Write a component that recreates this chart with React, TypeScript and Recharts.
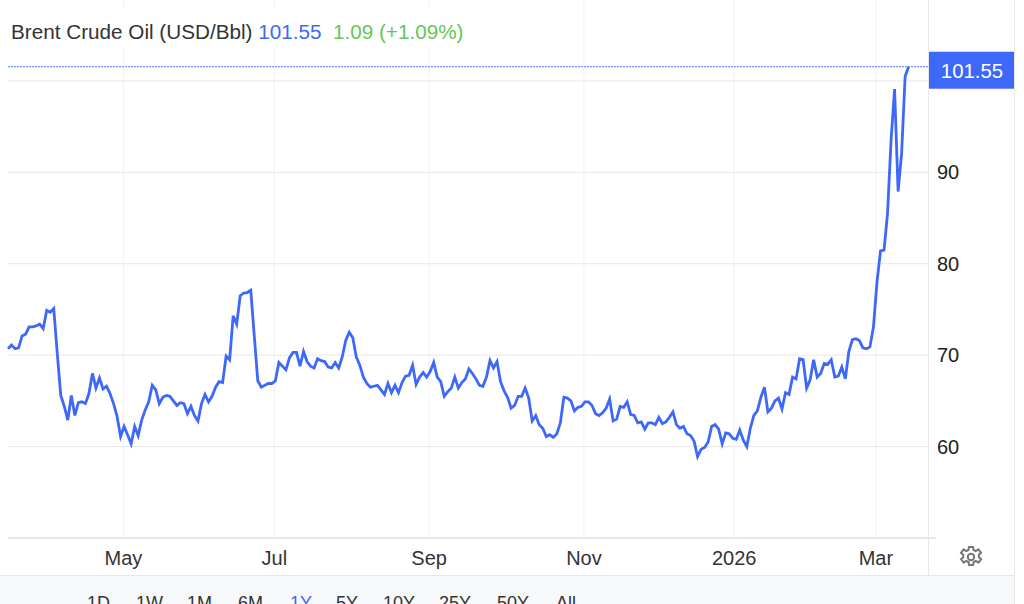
import { LineChart, Line, CartesianGrid, XAxis, YAxis, ReferenceLine } from "recharts";

// Daily closes, oldest first
const spring = [
  70.7, 71.1, 70.7, 70.8, 72.1, 72.3, 73.1, 73.1, 73.2, 73.4, 72.9, 74.9, 74.7, 75.1, 70.2, 65.6,
  64.4, 62.9, 65.6, 63.4, 64.8, 64.9, 64.7, 65.8, 68.0, 66.4, 67.5, 66.3, 66.6, 65.8, 64.7, 63.3,
  61.1, 62.2, 61.3, 60.3, 62.2, 61.2, 62.9, 64.0, 64.9, 66.7, 66.2, 64.7, 65.4, 65.6, 65.5, 65.0,
  64.5, 64.8, 64.7, 63.6, 64.4, 63.4, 62.8, 64.7, 65.7, 64.9, 65.5, 66.5, 67.1, 67.0, 69.9, 69.5,
  74.3, 73.4, 76.5, 76.8, 76.85, 77.1, 72.1, 67.2, 66.5, 66.7, 66.9, 66.9, 67.2, 69.2, 68.8, 68.4,
  69.7, 70.3, 70.3, 68.8, 70.4, 69.3, 68.8, 68.6, 69.6, 69.4, 69.3, 68.7, 68.6, 69.2, 68.6,
];
const summer = [
  69.8, 71.6, 72.5, 71.9, 69.8, 68.9, 67.6, 66.9, 66.5, 66.6, 66.7, 66.2, 65.7, 66.9, 65.9, 66.7,
  65.9, 67.0, 67.7, 67.8, 68.9, 66.8, 67.6, 68.1, 67.6, 68.2, 69.2, 67.6, 67.1, 65.5, 66.0, 66.4,
  67.6, 66.4, 67.0, 67.4, 68.5, 68.0, 67.4, 66.7, 66.6, 67.6, 69.4, 68.6, 69.3, 67.1, 66.1, 65.4,
  64.2, 64.5, 65.5, 65.5, 66.4, 65.3, 62.8, 63.4, 62.4, 62.0, 61.1, 61.3, 61.0, 61.4, 62.6, 65.4,
  65.3, 65.0, 63.9, 64.3, 64.4, 64.9, 64.9, 64.5, 63.6, 63.4, 63.7, 64.2, 65.2, 62.8, 63.0, 64.4,
  64.3, 64.9, 63.5, 63.4, 62.6, 62.7, 61.9, 62.6, 62.6, 62.4, 63.2, 62.5, 62.7, 63.2, 63.8, 62.4,
  62.0,
];
const winter = [
  62.2, 61.4, 61.2, 60.6, 58.9, 59.7, 59.9, 60.5, 62.2, 62.4, 61.9, 60.3, 61.5, 61.4, 60.9, 60.8,
  61.8, 60.7, 60.0, 62.0, 63.4, 63.9, 65.4, 66.5, 63.8, 64.2, 65.0, 65.3, 64.1, 65.9, 65.7, 67.6,
  67.4, 69.6, 69.5, 66.4, 67.3, 69.5, 67.6, 68.0, 69.1, 69.0, 69.5, 67.6, 67.7, 68.7, 67.4, 70.4,
  71.7, 71.8, 71.6, 70.8, 70.7, 70.9, 73.1, 78.0, 81.4, 81.5, 85.5, 93.5, 99.1, 87.9, 92.1, 100.5,
  101.55,
];
const closes = [...spring, ...summer, ...winter];

const monthLabels = ["May", "Jul", "Sep", "Nov", "2026", "Mar"];
const monthStarts = [32.8, 75.7, 119.7, 163.7, 206.4, 246.7];
const priceTicks = [60, 70, 80, 90];
const gridLevels = [60, 70, 80, 90, 100];
const rangeLabels = ["1D", "1W", "1M", "6M", "1Y", "5Y", "10Y", "25Y", "50Y", "All"];
const rangeLefts = [87, 136, 187, 238, 290, 336, 383, 439, 497, 556];

const last = closes[closes.length - 1];
const data = closes.map((close, i) => ({ i, close }));

const FONT = "'Liberation Sans', Arial, sans-serif";
const BLUE = "#3d68f8";

function PriceBadge({ viewBox }: any) {
  const y = viewBox.y;
  return (
    <g>
      <rect x={929} y={y - 15} width={85} height={37} fill={BLUE} />
      <text x={972} y={y + 11} fill="#fff" fontSize={20.4} textAnchor="middle" fontFamily={FONT}>
        {last.toFixed(2)}
      </text>
    </g>
  );
}

export default function App() {
  return (
    <div style={{ position: "absolute", left: 0, top: 0, width: 1024, height: 604, overflow: "hidden", background: "#fff", fontFamily: FONT }}>
      <LineChart
        width={1024}
        height={575}
        data={data}
        margin={{ top: 0, right: 0, left: 8, bottom: 0 }}
      >
        <CartesianGrid stroke="#eef3f6" horizontal={false} verticalValues={monthStarts} />
        <CartesianGrid stroke="#e8e8e8" vertical={false} horizontalValues={gridLevels} />
        <XAxis
          dataKey="i"
          type="number"
          domain={[0, 261.5]}
          ticks={monthStarts}
          tickFormatter={(v: number) => monthLabels[monthStarts.indexOf(v)]}
          axisLine={{ stroke: "#e8e8e8", strokeWidth: 2 }}
          tickLine={false}
          interval={0}
          height={37}
          tick={{ fill: "#333", fontSize: 20, fontFamily: FONT, dy: 5 }}
        />
        <YAxis
          orientation="right"
          type="number"
          domain={[50, 108.85]}
          ticks={priceTicks}
          axisLine={false}
          tickLine={false}
          interval={0}
          width={96}
          tick={{ fill: "#222", fontSize: 20, fontFamily: FONT, textAnchor: "start", dx: 1 }}
        />
        <ReferenceLine
          y={last}
          stroke="#4f78ff"
          strokeDasharray="2 1"
          label={<PriceBadge />}
        />
        <Line
          dataKey="close"
          type="linear"
          stroke={BLUE}
          strokeWidth={2.8}
          dot={false}
          isAnimationActive={false}
        />
      </LineChart>

      {/* title strip sits over the gridlines */}
      <div style={{ position: "absolute", left: 8, top: 9, width: 462, height: 39, background: "#fff", whiteSpace: "pre", fontSize: 20.7, lineHeight: "46px", paddingLeft: 3, boxSizing: "border-box" }}>
        <span style={{ color: "#333" }}>Brent Crude Oil (USD/Bbl)</span>
        <span style={{ color: BLUE }}> 101.55</span>
        <span style={{ color: "#63c755" }}>  1.09 (+1.09%)</span>
      </div>

      {/* pane borders, the bottom axis line runs a little past the first one */}
      <div style={{ position: "absolute", left: 928, top: 0, width: 1, height: 575, background: "#e8e8e8" }} />
      <div style={{ position: "absolute", left: 928, top: 537, width: 8, height: 2, background: "#e8e8e8" }} />
      <div style={{ position: "absolute", left: 1014, top: 0, width: 1, height: 604, background: "#e8e8e8" }} />

      {/* range picker, cut off by the bottom of the window */}
      <div style={{ position: "absolute", left: 0, top: 575, width: 1014, height: 29, background: "#f6f8fa", borderTop: "1px solid #e6e6e6", boxSizing: "border-box", overflow: "hidden" }}>
        {rangeLabels.map((r, i) => (
          <span key={r} style={{ position: "absolute", left: rangeLefts[i], top: 17, fontSize: 18, color: r === "1Y" ? BLUE : "#333" }}>
            {r}
          </span>
        ))}
      </div>

      {/* settings gear */}
      <svg style={{ position: "absolute", left: 959, top: 545 }} width={24} height={24} viewBox="0 0 24 24" fill="none" stroke="#777" strokeWidth={2}>
        <circle cx={12} cy={12} r={3.2} />
        <path d="M10 2h4l.6 3 2.2 1 2.6-1.6 2.6 3.4-2.2 2 .1 2.4 2.2 2-2.6 3.4-2.6-1.6-2.2 1-.6 3h-4l-.6-3-2.2-1-2.6 1.6-2.6-3.4 2.2-2-.1-2.4-2.2-2 2.6-3.4 2.6 1.6 2.2-1z" />
      </svg>
    </div>
  );
}
